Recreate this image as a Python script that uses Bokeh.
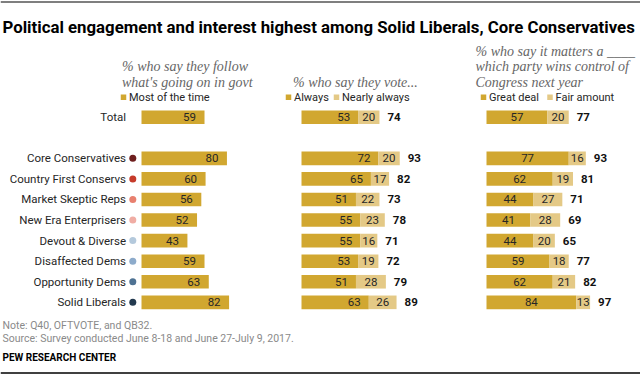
from bokeh.plotting import figure
from bokeh.models import Range1d
from bokeh.embed import file_html
from bokeh.resources import INLINE
from bokeh.core.properties import value

# ---------------- data ----------------
groups = ["Total", "Core Conservatives", "Country First Conservs", "Market Skeptic Reps",
          "New Era Enterprisers", "Devout & Diverse", "Disaffected Dems",
          "Opportunity Dems", "Solid Liberals"]
follow_most = [59, 80, 60, 56, 52, 43, 59, 63, 82]
vote_always = [53, 72, 65, 51, 55, 55, 53, 51, 63]
vote_nearly = [20, 20, 17, 22, 23, 16, 19, 28, 26]
vote_net = [74, 93, 82, 73, 78, 71, 72, 79, 89]
matter_great = [57, 77, 62, 44, 41, 44, 59, 62, 84]
matter_fair = [20, 16, 19, 27, 28, 20, 18, 21, 13]
matter_net = [77, 93, 81, 71, 69, 65, 77, 82, 97]

title = "Political engagement  and interest highest among Solid Liberals, Core Conservatives"
header1 = ["% who say they follow", "what's going on in govt"]
header2 = ["% who say they vote..."]
header3 = ["% who say it matters a  ____", "which party wins control of", "Congress next year"]
legend1 = ["Most of the time"]
legend2 = ["Always", "Nearly always"]
legend3 = ["Great deal", "Fair amount"]
note = "Note: Q40, OFTVOTE, and QB32."
source = "Source: Survey conducted June 8-18 and June 27-July 9, 2017."
credit = "PEW RESEARCH CENTER"

# ---------------- styles ----------------
GOLD = "#D1A730"
LIGHT = "#E4C986"
dot_colors = [None, "#6E1F1E", "#C63B2B", "#E8806F", "#F0ADA4", "#B4C9DC",
              "#8DABCB", "#4E7293", "#233A4F"]
SANS = "Roboto"
SERIF = "Liberation Serif"

W, H = 640, 375
PX = 1.068      # pixels per percentage point
ROW = 20.57     # pixels per row step
Y0 = 116.7      # pixel y of the first row


def px(v):
    return v / PX


def py(v):
    return (v - Y0) / ROW


p = figure(width=W, height=H, output_backend="svg", toolbar_location=None,
           x_range=Range1d(0, W / PX), y_range=Range1d((H - Y0) / ROW, -Y0 / ROW),
           min_border=0, outline_line_color=None, background_fill_color="white",
           border_fill_color="white")
p.axis.visible = False
p.grid.visible = False

rows = [0] + [i + 1 for i in range(1, len(groups))]
bh = 13.6 / ROW
o1, o2, o3 = px(141), px(301), px(486)

# panel 1
r1 = [o1 + v for v in follow_most]
p.hbar(y=rows, left=o1, right=r1, height=bh, fill_color=GOLD, line_color=None)
p.text(x=[r - px(8.5) for r in r1], y=rows, text=[str(v) for v in follow_most],
       text_align="right", text_baseline="middle", text_font=value(SANS),
       text_font_size="11.5px", text_color="#262626")

# panel 2
a2 = [o2 + v for v in vote_always]
n2 = [a + v for a, v in zip(a2, vote_nearly)]
p.hbar(y=rows, left=o2, right=a2, height=bh, fill_color=GOLD, line_color=None)
p.hbar(y=rows, left=a2, right=n2, height=bh, fill_color=LIGHT, line_color=None)
p.text(x=[a - px(8) for a in a2], y=rows, text=[str(v) for v in vote_always],
       text_align="right", text_baseline="middle", text_font=value(SANS),
       text_font_size="11.5px", text_color="#262626")
p.text(x=[(a + n) / 2 for a, n in zip(a2, n2)], y=rows, text=[str(v) for v in vote_nearly],
       text_align="center", text_baseline="middle", text_font=value(SANS),
       text_font_size="11.5px", text_color="#262626")
p.text(x=[n + px(8) for n in n2], y=rows, text=[str(v) for v in vote_net],
       text_align="left", text_baseline="middle", text_font=value(SANS),
       text_font_size="11.5px", text_font_style="bold", text_color="#111111")

# panel 3
a3 = [o3 + v for v in matter_great]
n3 = [a + v for a, v in zip(a3, matter_fair)]
p.hbar(y=rows, left=o3, right=a3, height=bh, fill_color=GOLD, line_color=None)
p.hbar(y=rows, left=a3, right=n3, height=bh, fill_color=LIGHT, line_color=None)
p.text(x=[(o3 + a) / 2 for a in a3], y=rows, text=[str(v) for v in matter_great],
       text_align="center", text_baseline="middle", text_font=value(SANS),
       text_font_size="11.5px", text_color="#262626")
p.text(x=[(a + n) / 2 for a, n in zip(a3, n3)], y=rows, text=[str(v) for v in matter_fair],
       text_align="center", text_baseline="middle", text_font=value(SANS),
       text_font_size="11.5px", text_color="#262626")
p.text(x=[n + px(8) for n in n3], y=rows, text=[str(v) for v in matter_net],
       text_align="left", text_baseline="middle", text_font=value(SANS),
       text_font_size="11.5px", text_font_style="bold", text_color="#111111")

# group labels and dots
p.text(x=[px(125.5)] * len(groups), y=rows, text=groups, text_align="right",
       text_baseline="middle", text_font=value(SANS), text_font_size="11.5px",
       text_color="#262626")
p.scatter(x=[px(132.3)] * (len(groups) - 1), y=rows[1:], size=7,
          fill_color=dot_colors[1:], line_color=None)

# headers
p.text(x=[px(121.5)] * 2, y=[py(66), py(81.5)], text=header1, text_font=value(SERIF),
       text_font_style="italic", text_font_size="14px", text_color="#666666",
       text_baseline="alphabetic")
p.text(x=[px(292.5)], y=[py(81.5)], text=header2, text_font=value(SERIF),
       text_font_style="italic", text_font_size="14px", text_color="#666666",
       text_baseline="alphabetic")
p.text(x=[px(475)] * 3, y=[py(51), py(66), py(81.5)], text=header3, text_font=value(SERIF),
       text_font_style="italic", text_font_size="14px", text_color="#666666",
       text_baseline="alphabetic")

# legends
lx = [px(123), px(288), px(336), px(483), px(549.5)]
lc = [GOLD, GOLD, LIGHT, GOLD, LIGHT]
p.scatter(x=lx, y=[py(96.7)] * 5, marker="square", size=5.5, fill_color=lc, line_color=None)
p.text(x=[v + px(5.5) for v in lx], y=[py(97)] * 5, text=legend1 + legend2 + legend3,
       text_font=value(SANS), text_font_size="11px", text_color="#262626",
       text_baseline="middle")

# title and footer
p.text(x=[px(2)], y=[py(26.5)], text=[title], text_font=value(SANS),
       text_font_style="bold", text_font_size="16.8px", text_color="#000000",
       text_baseline="alphabetic")
p.text(x=[px(2)] * 2, y=[py(324.5), py(337.5)], text=[note, source], text_font=value(SANS),
       text_font_size="10.5px", text_color="#8a8a8a", text_baseline="alphabetic")
p.text(x=[px(2)], y=[py(356.5)], text=[credit], text_font=value(SANS),
       text_font_style="bold", text_font_size="10px", text_color="#000000",
       text_baseline="alphabetic")

# rules
p.segment(x0=[0, 0], x1=[W / PX, W / PX], y0=[py(1.5), py(372.5)], y1=[py(1.5), py(372.5)],
          line_color="#000000", line_width=[1.2, 1.6])

open("out.html", "w").write(file_html(p, INLINE))
